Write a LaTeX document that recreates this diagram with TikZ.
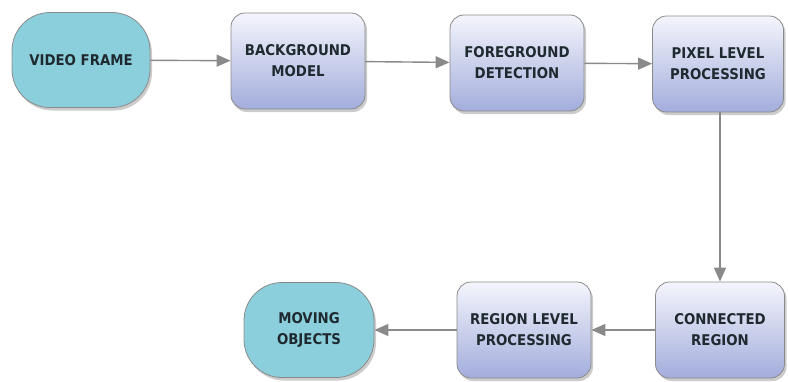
\documentclass[tikz,border=0pt]{standalone}
\usepackage{fontspec}
\setmainfont{DejaVu Sans Condensed}
\usetikzlibrary{arrows.meta,shadows}
\definecolor{termfill}{HTML}{8CCFDC}
\definecolor{boxtop}{HTML}{F4F5FC}
\definecolor{boxbot}{HTML}{A3ADDC}
\definecolor{edge}{HTML}{8A8A8A}
\definecolor{txt}{HTML}{1E2A30}
\tikzset{
  x=1pt,y=-1pt,
  base/.style={draw=edge, line width=0.8pt, text=txt, font=\bfseries\fontsize{14.8}{21}\selectfont,
     align=center, drop shadow={shadow xshift=2pt,shadow yshift=-3pt,opacity=0.4}},
  term/.style={base, fill=termfill, rounded corners=38pt, minimum width=138pt, minimum height=95pt},
  procbox/.style={base, top color=boxtop, bottom color=boxbot, rounded corners=14pt, minimum width=134pt, minimum height=96pt},
  conn/.style={draw=edge, line width=1.4pt, -{Triangle[length=14pt,width=12pt]}},
}
\begin{document}
\begin{tikzpicture}
\useasboundingbox (0,0) rectangle (788,381);
\node[term] (vf) at (81,60) {VIDEO FRAME};
\node[procbox] (bm) at (298,61) {BACKGROUND\\MODEL};
\node[procbox] (fd) at (517,63) {FOREGROUND\\DETECTION};
\node[procbox, minimum width=131pt] (pl) at (718,64) {PIXEL LEVEL\\PROCESSING};
\node[procbox, minimum width=129pt] (cr) at (720,330) {CONNECTED\\REGION};
\node[procbox] (rl) at (524,330) {REGION LEVEL\\PROCESSING};
\node[term, minimum width=130pt] (mo) at (309,330) {MOVING\\OBJECTS};
\draw[conn] (vf) -- (bm);
\draw[conn] (bm) -- (fd);
\draw[conn] (fd) -- (pl);
\draw[conn] (pl.south -| 720,0) -- (cr.north -| 720,0);
\draw[conn] (cr) -- (rl);
\draw[conn] (rl) -- (mo);
\end{tikzpicture}
\end{document}
